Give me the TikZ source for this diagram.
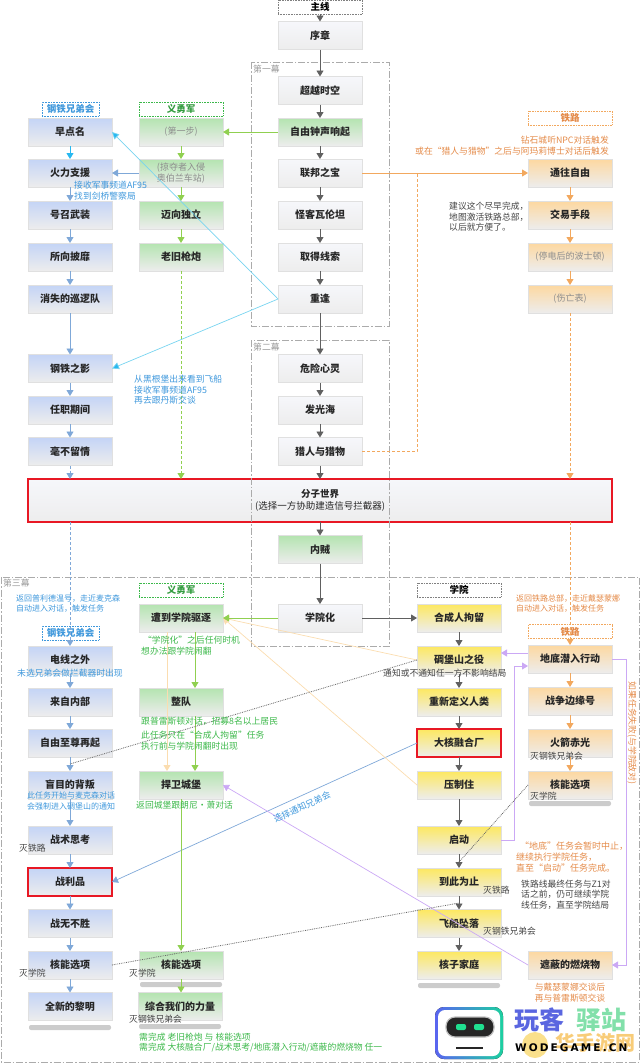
\documentclass[tikz,border=0pt]{standalone}
\usepackage{fontspec}
\setmainfont{Noto Sans CJK SC}
\newfontfamily\markfont[LetterSpace=20]{DejaVu Sans}
\usetikzlibrary{arrows.meta}
\definecolor{mainline}{HTML}{606060}
\definecolor{greenline}{HTML}{90D050}
\definecolor{cyanline}{HTML}{78D4F0}
\definecolor{cyantip}{HTML}{28B8F0}
\definecolor{steelline}{HTML}{7FA8D8}
\definecolor{orangeline}{HTML}{F2A85E}
\definecolor{paleline}{HTML}{FBDDB0}
\definecolor{purpleline}{HTML}{CBA8F5}
\definecolor{bluetext}{HTML}{3F98DC}
\definecolor{greentext}{HTML}{3CB84A}
\definecolor{orangetext}{HTML}{E48A48}
\definecolor{graytext}{HTML}{454545}
\definecolor{framegray}{HTML}{ABABAB}
\definecolor{redframe}{HTML}{E81824}
\definecolor{maintop}{HTML}{F6F7FB}
\definecolor{bostop}{HTML}{C4D4F6}
\definecolor{mintop}{HTML}{B4E4B0}
\definecolor{railtop}{HTML}{FDD8A0}
\definecolor{insttop}{HTML}{FDE860}
\definecolor{boxbottom}{HTML}{EDEDED}
\definecolor{logoblue}{HTML}{5A64F0}
\definecolor{logogreen}{HTML}{1CD0A0}
\definecolor{eyegreen}{HTML}{20E090}
\definecolor{duck}{HTML}{FAE08C}
\definecolor{wordblue}{HTML}{5A66E0}
\definecolor{wordgreen}{HTML}{82E0AA}
\definecolor{wordpale}{HTML}{F8CC78}
\begin{document}
\begin{tikzpicture}[x=1pt,y=-1pt,
    quest/.style={draw=black!12, line width=0.8pt, minimum width=84pt, minimum height=28pt, inner sep=0pt, outer sep=0pt, font=\fontsize{10}{12}\selectfont\bfseries, text=black!85, align=center},
    mainq/.style={quest, top color=maintop, bottom color=boxbottom},
    bosq/.style={quest, top color=bostop, bottom color=boxbottom},
    minq/.style={quest, top color=mintop, bottom color=boxbottom},
    railq/.style={quest, top color=railtop, bottom color=boxbottom},
    instq/.style={quest, top color=insttop, bottom color=boxbottom},
    off/.style={font=\fontsize{9}{11}\selectfont, text=black!45},
    redq/.style={draw=redframe, line width=1.2pt},
    tag/.style={draw, densely dotted, line width=0.6pt, fill=white, minimum height=14pt, inner sep=0pt, outer sep=0pt, font=\fontsize{9.5}{11}\selectfont\bfseries},
    note/.style={inner sep=0pt, anchor=west, align=left, font=\fontsize{8.8}{10.6}\selectfont},
    small/.style={font=\fontsize{8}{10.2}\selectfont},
    flow/.style={-{Triangle[length=6pt,width=7pt]}, line width=0.9pt},
    chapter/.style={draw=framegray, line width=0.9pt, dash pattern=on 7pt off 2pt on 1.5pt off 2pt},
    bar/.style={fill=black!20, rounded corners=2pt}
  ]
  \useasboundingbox (0,0) rectangle (640,1063);

  % main line
  \node[tag, draw=black!50, minimum width=84pt] (M0) at (320,7) {主线};
  \node[mainq] (M1) at (320,35.5) {序章};
  \node[mainq] (M2) at (320,90.5) {超越时空};
  \node[minq] (M3) at (320,132) {自由钟声响起};
  \node[mainq] (M4) at (320,173) {联邦之宝};
  \node[mainq] (M5) at (320,215) {怪客瓦伦坦};
  \node[mainq] (M6) at (320,257) {取得线索};
  \node[mainq] (M7) at (320,299) {重逢};
  \node[mainq] (M8) at (320,368.5) {危险心灵};
  \node[mainq] (M9) at (320,410) {发光海};
  \node[mainq] (M10) at (320,451.5) {猎人与猎物};
  \node[mainq, redq, minimum width=584pt, minimum height=43pt, font=\fontsize{9.5}{12.5}\selectfont] (X) at (320,500.5) {{\bfseries 分子世界}\\(选择一方协助建造信号拦截器)};
  \node[minq] (M11) at (320,549.5) {内贼};
  \node[mainq] (M12) at (320,618) {学院化};

  % brotherhood, first part
  \node[tag, draw=bluetext, text=bluetext, minimum width=57pt] (B0) at (70.5,109) {钢铁兄弟会};
  \node[bosq] (B1) at (70,132) {早点名};
  \node[bosq] (B2) at (70,173) {火力支援};
  \node[bosq] (B3) at (70,215) {号召武装};
  \node[bosq] (B4) at (70,257) {所向披靡};
  \node[bosq] (B5) at (70,299) {消失的巡逻队};
  \node[bosq] (B6) at (70,368.5) {钢铁之影};
  \node[bosq] (B7) at (70,410) {任职期间};
  \node[bosq] (B8) at (70,451.5) {毫不留情};

  % minutemen, first part
  \node[tag, draw=greentext, text=greentext!85!black, minimum width=84pt] (V0) at (181,109) {义勇军};
  \node[minq, off] (V1) at (181,132) {(第一步)};
  \node[minq, off] (V2) at (181,173) {(掠夺者入侵\\奥伯兰车站)};
  \node[minq] (V3) at (181,215) {迈向独立};
  \node[minq] (V4) at (181,257) {老旧枪炮};

  % railroad, first part
  \node[tag, draw=orangeline, text=orangetext, minimum width=84pt] (R0) at (570,118) {铁路};
  \node[railq] (R1) at (570,173) {通往自由};
  \node[railq] (R2) at (570,215) {交易手段};
  \node[railq, off] (R3) at (570,257) {(停电后的波士顿)};
  \node[railq, off] (R4) at (570,299) {(伤亡表)};

  % third part, four columns
  \node[tag, draw=bluetext, text=bluetext, minimum width=57pt] (B9) at (70.5,633) {钢铁兄弟会};
  \node[bosq] (B10) at (70,660) {电线之外};
  \node[bosq] (B11) at (70,702) {来自内部};
  \node[bosq] (B12) at (70,743) {自由至尊再起};
  \node[bosq] (B13) at (70,785) {盲目的背叛};
  \node[bosq] (B14) at (70,840) {战术思考};
  \node[bosq, redq] (B15) at (70,882) {战利品};
  \node[bosq] (B16) at (70,923.5) {战无不胜};
  \node[bosq] (B17) at (70,965) {核能选项};
  \node[bosq] (B18) at (70,1006.5) {全新的黎明};

  \node[tag, draw=greentext, text=greentext!85!black, minimum width=84pt] (V9) at (181,590) {义勇军};
  \node[minq] (V5) at (181,618) {遭到学院驱逐};
  \node[minq] (V6) at (181,702) {整队};
  \node[minq] (V7) at (181,785) {捍卫城堡};
  \node[minq] (V8) at (181,965) {核能选项};
  \node[minq] (V10) at (180,1006.5) {综合我们的力量};

  \node[tag, draw=black!50, minimum width=84pt] (A0) at (459,590) {学院};
  \node[instq] (A1) at (459,618) {合成人拘留};
  \node[instq] (A2) at (459,660) {碉堡山之役};
  \node[instq] (A3) at (459,702) {重新定义人类};
  \node[instq, redq] (A4) at (459,743) {大核融合厂};
  \node[instq] (A5) at (459,785) {压制住};
  \node[instq] (A6) at (459,840) {启动};
  \node[instq] (A7) at (459,882) {到此为止};
  \node[instq] (A8) at (459,923.5) {飞船坠落};
  \node[instq] (A9) at (459,965) {核子家庭};

  \node[tag, draw=orangeline, text=orangetext, minimum width=84pt] (R9) at (570,631.5) {铁路};
  \node[railq] (R5) at (570,659) {地底潜入行动};
  \node[railq] (R6) at (570,701) {战争边缘号};
  \node[railq] (R7) at (570,743) {火箭赤光};
  \node[railq] (R8) at (570,785) {核能选项};
  \node[railq] (R10) at (570,965) {遮蔽的燃烧物};

  % end bars
  \fill[bar] (29,1025) rectangle (111,1030);
  \fill[bar] (140,982) rectangle (222,987);
  \fill[bar] (139,1024) rectangle (221,1029);
  \fill[bar] (418,983) rectangle (500,988);
  \fill[bar] (529,801) rectangle (611,806);

  % chapters
  \draw[chapter] (251,62) rectangle (389,326);
  \draw[chapter] (251,340) rectangle (389,646);
  \draw[chapter] (1,577) rectangle (639,1062);
  \node[note, text=black!40] (F1) at (253,69) {第一幕};
  \node[note, text=black!40] (F2) at (253,347) {第二幕};
  \node[note, text=black!40] (F3) at (3,583) {第三幕};

  % main arrows
  \draw[flow, mainline] (M0) -- (M1);
  \draw[flow, mainline] (M1) -- (M2);
  \draw[flow, mainline] (M2) -- (M3);
  \draw[flow, mainline] (M3) -- (M4);
  \draw[flow, mainline] (M4) -- (M5);
  \draw[flow, mainline] (M5) -- (M6);
  \draw[flow, mainline] (M6) -- (M7);
  \draw[flow, mainline] (M7) -- (M8);
  \draw[flow, mainline] (M8) -- (M9);
  \draw[flow, mainline] (M9) -- (M10);
  \draw[flow, mainline] (M10) -- (X);
  \draw[flow, mainline] (X) -- (M11);
  \draw[flow, mainline] (M11) -- (M12);
  \draw[flow, mainline] (M12) -- (A1);
  \draw[flow, mainline] (A1) -- (A2);
  \draw[flow, mainline] (A2) -- (A3);
  \draw[flow, mainline] (A3) -- (A4);
  \draw[flow, mainline] (A4) -- (A5);
  \draw[flow, mainline] (A5) -- (A6);
  \draw[flow, mainline] (A6) -- (A7);
  \draw[flow, mainline] (A7) -- (A8);
  \draw[flow, mainline] (A8) -- (A9);

  % brotherhood arrows
  \draw[flow, cyantip] (B1) -- (B2);
  \draw[flow, steelline] (B2) -- (B3);
  \draw[flow, steelline] (B3) -- (B4);
  \draw[flow, steelline] (B4) -- (B5);
  \draw[flow, steelline] (B5) -- (B6);
  \draw[flow, steelline] (B6) -- (B7);
  \draw[flow, steelline] (B7) -- (B8);
  \draw[flow, steelline, densely dashed] (B8) -- (B8 |- X.north);
  \draw[flow, steelline, densely dashed] (B8 |- X.south) -- (B10);
  \draw[flow, steelline] (B10) -- (B11);
  \draw[flow, steelline] (B11) -- (B12);
  \draw[flow, steelline] (B12) -- (B13);
  \draw[flow, steelline] (B13) -- (B14);
  \draw[flow, steelline] (B14) -- (B15);
  \draw[flow, steelline] (B15) -- (B16);
  \draw[flow, steelline] (B16) -- (B17);
  \draw[flow, steelline] (B17) -- (B18);
  \draw[-{Triangle[length=7pt,width=7pt,fill=cyantip]}, cyanline, line width=0.7pt] (M7.west) -- (B1.east);
  \draw[-{Triangle[length=7pt,width=7pt,fill=cyantip]}, cyanline, line width=0.7pt] (M7.west) -- (B6.east);
  \draw[flow, steelline] (V2) -- (B2);
  \draw[flow, steelline, line width=0.7pt] (A4.west) -- (B15.east);

  % minutemen arrows
  \draw[flow, greenline] (M3) -- (V1);
  \draw[flow, greenline] (V1) -- (V2);
  \draw[flow, greenline] (V2) -- (V3);
  \draw[flow, greenline] (V3) -- (V4);
  \draw[flow, greenline, densely dashed] (V4) -- (V4 |- X.north);
  \draw[flow, paleline, line width=0.7pt] (A2.west) -- (V5.east);
  \draw[flow, paleline, line width=0.7pt] (A5.west) -- (V5.east);
  \draw[flow, greenline] (M12) -- (V5);
  \draw[flow, greenline] ([xshift=14pt]V5.south) -- ([xshift=14pt]V6.north);
  \draw[flow, greenline] ([xshift=14pt]V6.south) -- ([xshift=14pt]V7.north);
  \draw[flow, paleline] ([xshift=-14pt]V5.south) -- ([xshift=-14pt]V7.north);
  \draw[flow, greenline] (V7) -- (V8);
  \draw[flow, greenline] (V8) -- (V10.north -| V8);

  % railroad arrows
  \coordinate (Q1) at (417,451.5);
  \coordinate (Q2) at (417,173);
  \draw[flow, orangeline] (M4) -- (R1);
  \draw[orangeline, densely dashed, line width=0.9pt] (M10.east) -- (Q1) -- (Q2);
  \draw[flow, orangeline] (R1) -- (R2);
  \draw[flow, orangeline] (R2) -- (R3);
  \draw[flow, orangeline] (R3) -- (R4);
  \draw[flow, orangeline, densely dashed] (R4) -- (R4 |- X.north);
  \draw[flow, orangeline, densely dashed] (R4 |- X.south) -- (R5);
  \draw[flow, orangeline] (R5) -- (R6);
  \draw[flow, orangeline] (R6) -- (R7);
  \draw[flow, orangeline] (R7) -- (R8);

  % purple links
  \coordinate (P1) at (514,840);
  \coordinate (P2) at (514,666);
  \coordinate (P3) at (626,659);
  \coordinate (P4) at (626,965);
  \draw[flow, purpleline] ([yshift=6pt]R5.west) -- ([yshift=7pt]A2.east);
  \draw[flow, purpleline] (A6.east) -- (P1) -- (P2) -- ([yshift=-7pt]R5.west);
  \draw[flow, purpleline] (R5.east) -- (P3) -- (P4) -- (R10.east);
  \draw[flow, purpleline, line width=0.7pt] (R10.west) -- (V7.east);

  % dotted links
  \coordinate (D1) at (70,764);
  \coordinate (D2) at (459,903);
  \coordinate (D3) at (459,862);
  \draw[densely dotted, black!60, line width=0.8pt] (A2.west) -- (D1);
  \draw[densely dotted, black!60, line width=0.8pt] (B17.east) -- (D2);
  \draw[densely dotted, black!60, line width=0.8pt] (R8.west) -- (D3);

  % blue notes
  \node[note, text=bluetext] (N1) at (74,190.5) {接收军事频道AF95\\找到剑桥警察局};
  \node[note, text=bluetext] (N2) at (134,390) {从黑根堡出来看到飞船\\接收军事频道AF95\\再去跟丹斯交谈};
  \node[note, small, text=bluetext] (N3) at (16,603.5) {返回普利德温号，走近麦克森\\自动进入对话，触发任务};
  \node[note, text=bluetext] (N4) at (17,673) {未选兄弟会做拦截器时出现};
  \node[note, small, text=bluetext] (N5) at (27,801) {此任务开始与麦克森对话\\会强制进入碉堡山的通知};
  \node[note, text=bluetext, anchor=center, rotate=24.5] (N6) at (302,807) {选择通知兄弟会};

  % green notes
  \node[note, text=greentext] (N7) at (141,645.5) {\ “学院化”之后任何时机\\想办法跟学院闹翻};
  \node[note, text=greentext] (N8) at (141,721) {跟普雷斯顿对话，招募8名以上居民};
  \node[note, text=greentext] (N9) at (141,740.5) {此任务只在“合成人拘留”任务\\执行前与学院闹翻时出现};
  \node[note, text=greentext] (N10) at (136,805) {返回城堡跟朗尼·萧对话};
  \node[note, text=greentext] (N11) at (139,1042.5) {需完成 老旧枪炮 与 核能选项\\需完成 大核融合厂/战术思考/地底潜入行动/遮蔽的燃烧物 任一};

  % orange notes
  \node[note, text=orangetext, anchor=east, align=right] (N12) at (609,145.5) {钻石城听NPC对话触发\\或在“猎人与猎物”之后与阿玛莉博士对话后触发};
  \node[note, small, text=orangetext] (N13) at (516,603.5) {返回铁路总部，走近戴瑟蒙娜\\自动进入对话，触发任务};
  \node[note, text=orangetext, anchor=center, rotate=-90] (N14) at (632,733) {如果任务失败(与学院敌对)};
  \node[note, text=orangetext, font=\fontsize{9}{10.6}\selectfont] (N15) at (516,857) {\ \ “地底”任务会暂时中止，\\继续执行学院任务，\\直至“启动”任务完成。};
  \node[note, text=orangetext, anchor=center, align=center] (N16) at (570,992.5) {与戴瑟蒙娜交谈后\\再与普雷斯顿交谈};

  % gray notes
  \node[note, text=graytext] (N17) at (449,217) {建议这个尽早完成，\\地图激活铁路总部，\\以后就方便了。};
  \node[note, text=graytext] (N18) at (383,673) {通知或不通知任一方不影响结局};
  \node[note, text=graytext] (N19) at (521,894.5) {铁路线最终任务与Z1对\\话之前，仍可继续学院\\线任务，直至学院结局};
  \node[note, text=graytext] (K1) at (19,848) {灭铁路};
  \node[note, text=graytext] (K2) at (19,973) {灭学院};
  \node[note, text=graytext] (K3) at (129,973) {灭学院};
  \node[note, text=graytext] (K4) at (129,1019) {灭钢铁兄弟会};
  \node[note, text=graytext] (K5) at (530,756) {灭钢铁兄弟会};
  \node[note, text=graytext] (K6) at (530,796) {灭学院};
  \node[note, text=graytext] (K7) at (483,890) {灭铁路};
  \node[note, text=graytext] (K8) at (483,931) {灭钢铁兄弟会};

  % logo in the corner
  \fill[left color=logoblue, right color=logogreen, rounded corners=9pt] (435,1007) rectangle (503,1059);
  \fill[white, rounded corners=7pt] (438,1010) rectangle (500,1056);
  \filldraw[fill=black!85, rounded corners=9pt, draw=black!25, line width=1.2pt] (446,1017) rectangle (494,1037);
  \fill[eyegreen, rounded corners=2pt] (456,1024) rectangle (466,1030);
  \fill[eyegreen, rounded corners=2pt] (474,1024) rectangle (484,1030);
  \draw[black!85, line width=1.3pt] (456,1048) -- (483,1048);
  \fill[duck] (535,1045) circle (13pt);
  \node[note, font=\fontsize{25}{27}\selectfont\bfseries, text=wordblue] (W1) at (514,1020) {玩客};
  \node[note, font=\fontsize{25}{27}\selectfont\bfseries, text=wordgreen] (W2) at (576,1020) {驿站};
  \node[note, font=\fontsize{20}{22}\selectfont\bfseries, text=wordpale] (W3) at (555,1043) {华手游网};
  \node[note, font=\fontsize{10.5}{12}\markfont\bfseries, text=black] (W4) at (515,1048) {WODEGAME.CN};
\end{tikzpicture}
\end{document}
